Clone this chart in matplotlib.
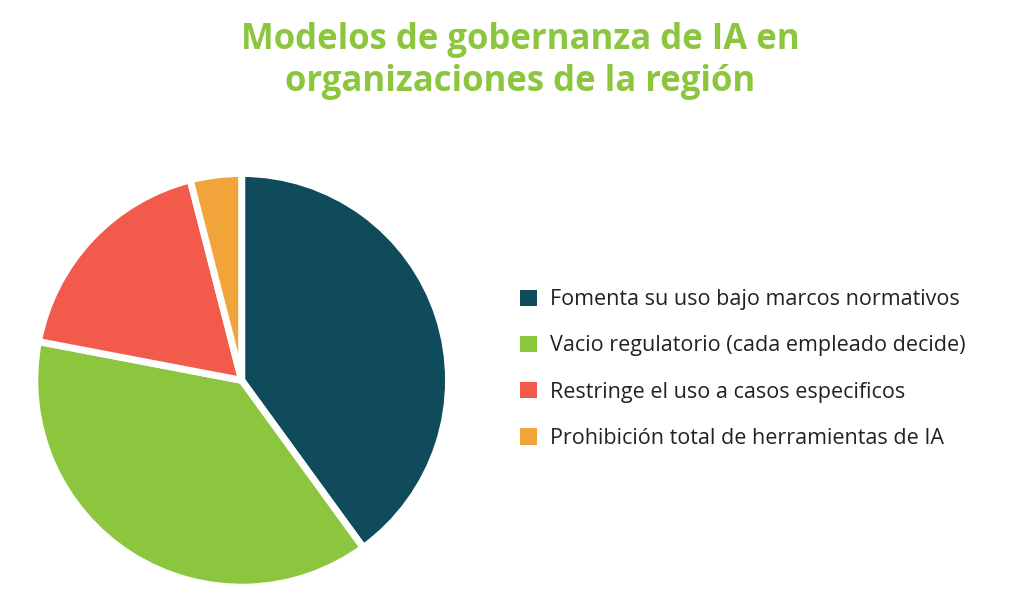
import matplotlib.pyplot as plt
from matplotlib.patches import Patch

# data
labels = [
    "Fomenta su uso bajo marcos normativos",
    "Vacio regulatorio (cada empleado decide)",
    "Restringe el uso a casos especificos",
    "Prohibición total de herramientas de IA",
]
shares = [40, 38, 18, 4]
colors = ["#0f4b5a", "#8cc63f", "#f25a4c", "#f0a43a"]

TITLE = "Modelos de gobernanza de IA en\norganizaciones de la región"

plt.rcParams["font.family"] = ["Open Sans", "DejaVu Sans"]

fig = plt.figure(figsize=(10.24, 6.09), dpi=100)
fig.patch.set_facecolor("white")

ax = fig.add_axes([0.036, 0.039, 0.4, 0.673])
wedges, _ = ax.pie(
    shares,
    colors=colors,
    startangle=90,
    counterclock=False,
    radius=1.0,
    wedgeprops={"edgecolor": "white", "linewidth": 5},
)
ax.set_xlim(-0.99, 0.99)
ax.set_ylim(-0.99, 0.99)
ax.set_aspect("equal")

handles = [Patch(facecolor=c, edgecolor="none") for c in colors]
fig.legend(
    handles,
    labels,
    loc="center left",
    bbox_to_anchor=(0.489, 0.394),
    frameon=False,
    fontsize=15.5,
    handlelength=0.8,
    handleheight=0.8,
    handletextpad=0.6,
    labelspacing=1.17,
    labelcolor="#222222",
)

fig.text(
    0.508, 0.9, TITLE,
    ha="center", va="center",
    fontsize=25, fontweight="bold", color="#8cc63f",
    linespacing=1.25,
)

fig.savefig("out.png", dpi=100)
